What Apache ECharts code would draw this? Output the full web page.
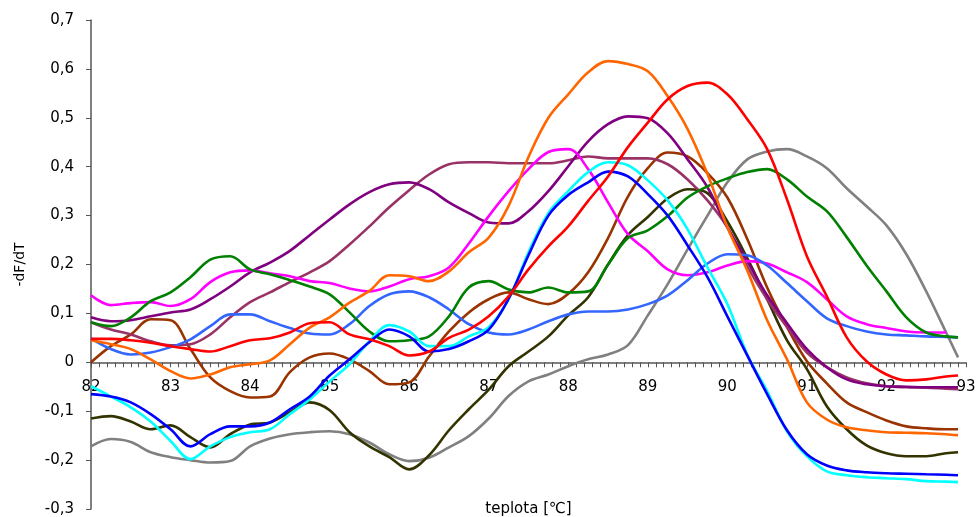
<!DOCTYPE html>
<html>
<head>
<meta charset="utf-8">
<script src="https://cdn.jsdelivr.net/npm/echarts@6/dist/echarts.min.js"></script>
<style>
html,body{margin:0;padding:0;background:#fff;}
#chart{width:979px;height:517px;}
</style>
</head>
<body>
<div id="chart"></div>
<script>
var temps = [82,82.25,82.5,82.75,83,83.25,83.5,83.75,84,84.25,84.5,84.75,85,85.25,85.5,85.75,86,86.25,86.5,86.75,87,87.25,87.5,87.75,88,88.25,88.5,88.75,89,89.25,89.5,89.75,90,90.25,90.5,90.75,91,91.25,91.5,91.75,92,92.25,92.5,92.75,92.9];

var gray = [-0.172,-0.157,-0.163,-0.184,-0.194,-0.2,-0.205,-0.202,-0.172,-0.156,-0.147,-0.143,-0.141,-0.147,-0.164,-0.188,-0.202,-0.195,-0.174,-0.151,-0.115,-0.069,-0.039,-0.025,-0.008,0.006,0.016,0.035,0.096,0.16,0.231,0.3,0.368,0.415,0.431,0.436,0.421,0.397,0.356,0.319,0.28,0.221,0.145,0.061,0.01];
var olive = [-0.115,-0.11,-0.121,-0.137,-0.129,-0.153,-0.174,-0.147,-0.127,-0.123,-0.102,-0.082,-0.098,-0.143,-0.172,-0.194,-0.219,-0.19,-0.139,-0.096,-0.056,-0.008,0.022,0.053,0.096,0.133,0.2,0.26,0.297,0.335,0.354,0.346,0.288,0.213,0.129,0.045,-0.014,-0.09,-0.137,-0.17,-0.186,-0.192,-0.192,-0.186,-0.184];
var brown = [0,0.033,0.057,0.088,0.086,0.027,-0.031,-0.059,-0.072,-0.07,-0.02,0.01,0.018,0.006,-0.018,-0.045,-0.041,0.012,0.063,0.102,0.129,0.143,0.129,0.119,0.14,0.184,0.254,0.339,0.397,0.429,0.421,0.387,0.337,0.252,0.153,0.072,0.002,-0.043,-0.082,-0.102,-0.119,-0.131,-0.135,-0.137,-0.137];
var plum = [0.082,0.067,0.057,0.043,0.035,0.037,0.057,0.092,0.123,0.143,0.164,0.184,0.207,0.241,0.278,0.317,0.352,0.384,0.405,0.409,0.409,0.407,0.407,0.407,0.413,0.421,0.417,0.417,0.417,0.405,0.374,0.331,0.276,0.196,0.129,0.072,0.02,-0.01,-0.031,-0.043,-0.049,-0.051,-0.052,-0.054,-0.055];
var purple = [0.092,0.084,0.086,0.094,0.102,0.108,0.129,0.155,0.184,0.204,0.228,0.26,0.292,0.323,0.348,0.364,0.368,0.354,0.327,0.305,0.286,0.284,0.309,0.35,0.401,0.452,0.487,0.503,0.499,0.468,0.415,0.358,0.276,0.207,0.137,0.08,0.027,-0.01,-0.035,-0.045,-0.049,-0.05,-0.051,-0.051,-0.051];
var magenta = [0.137,0.117,0.121,0.123,0.115,0.129,0.164,0.184,0.188,0.182,0.176,0.166,0.162,0.151,0.145,0.155,0.17,0.176,0.194,0.243,0.299,0.35,0.395,0.43,0.436,0.395,0.327,0.262,0.227,0.19,0.178,0.184,0.198,0.207,0.202,0.184,0.164,0.129,0.094,0.078,0.07,0.063,0.061,0.061,null];
var cornflower = [0.049,0.027,0.016,0.02,0.031,0.047,0.074,0.098,0.098,0.084,0.07,0.059,0.057,0.078,0.115,0.139,0.145,0.133,0.108,0.078,0.061,0.057,0.067,0.084,0.098,0.104,0.104,0.108,0.119,0.137,0.168,0.202,0.221,0.219,0.198,0.162,0.125,0.09,0.074,0.063,0.057,0.055,0.053,0.052,0.051];
var green = [0.082,0.074,0.092,0.125,0.143,0.174,0.21,0.217,0.19,0.18,0.168,0.155,0.139,0.102,0.063,0.043,0.045,0.053,0.094,0.153,0.166,0.149,0.143,0.153,0.143,0.145,0.2,0.254,0.27,0.299,0.337,0.36,0.376,0.389,0.395,0.374,0.339,0.309,0.256,0.198,0.145,0.092,0.061,0.053,0.051];
var cyan = [-0.049,-0.07,-0.092,-0.121,-0.161,-0.198,-0.172,-0.153,-0.143,-0.137,-0.106,-0.076,-0.039,-0.004,0.043,0.076,0.063,0.033,0.033,0.053,0.072,0.129,0.225,0.305,0.35,0.389,0.409,0.403,0.372,0.331,0.272,0.194,0.119,0.016,-0.059,-0.141,-0.192,-0.223,-0.231,-0.235,-0.237,-0.239,-0.243,-0.244,-0.245];
var blue = [-0.065,-0.07,-0.082,-0.106,-0.137,-0.172,-0.147,-0.131,-0.131,-0.123,-0.096,-0.07,-0.027,0.006,0.041,0.067,0.053,0.022,0.027,0.043,0.067,0.13,0.219,0.3,0.342,0.368,0.39,0.38,0.344,0.3,0.239,0.174,0.094,0.014,-0.065,-0.139,-0.188,-0.211,-0.221,-0.225,-0.227,-0.228,-0.229,-0.23,-0.231];
var orange = [0.045,0.037,0.027,0.006,-0.018,-0.033,-0.025,-0.01,-0.004,0.004,0.037,0.071,0.092,0.122,0.146,0.178,0.176,0.166,0.186,0.225,0.255,0.32,0.42,0.5,0.548,0.593,0.616,0.61,0.595,0.544,0.477,0.385,0.276,0.188,0.086,0.006,-0.082,-0.117,-0.133,-0.139,-0.143,-0.144,-0.145,-0.147,-0.149];
var red = [0.048,0.048,0.045,0.04,0.033,0.027,0.022,0.033,0.045,0.049,0.061,0.08,0.082,0.057,0.047,0.033,0.014,0.022,0.05,0.067,0.094,0.135,0.19,0.237,0.278,0.33,0.38,0.44,0.49,0.538,0.565,0.572,0.548,0.497,0.436,0.333,0.217,0.135,0.051,0.002,-0.025,-0.037,-0.035,-0.029,-0.027];

var seriesList = [
  {name:'s1', data: gray, color:'#808080'},
  {name:'s2', data: olive, color:'#333300'},
  {name:'s3', data: brown, color:'#993300'},
  {name:'s4', data: plum, color:'#993366'},
  {name:'s5', data: purple, color:'#800080'},
  {name:'s6', data: magenta, color:'#FF00FF'},
  {name:'s7', data: cornflower, color:'#3366FF'},
  {name:'s8', data: green, color:'#008000'},
  {name:'s9', data: cyan, color:'#00FFFF'},
  {name:'s10', data: blue, color:'#0000FF'},
  {name:'s11', data: orange, color:'#FF6600'},
  {name:'s12', data: red, color:'#FF0000'}
];

var FONT = '"DejaVu Sans", "Liberation Sans", Arial, sans-serif';
function fmt(v){ var r = Math.round(v*10)/10; if (r === 0) return '0'; return r.toFixed(1).replace('.', ','); }

var X_MIN = 82, X_MAX = 93;
var Y_MIN = -0.3, Y_MAX = 0.7;
var GRID_TOP = 20, GRID_BOTTOM = 8, CH = 517;
var plotH = CH - GRID_TOP - GRID_BOTTOM;
// labels/title axis shifted up from the grid bottom to the y = 0 line
var zeroShift = plotH * (0 - Y_MIN) / (Y_MAX - Y_MIN);
var AXIS_COLOR = '#555';

var chart = echarts.init(document.getElementById('chart'), null, {renderer:'canvas'});
chart.setOption({
  animation: false,
  backgroundColor: '#ffffff',
  grid: {left: 91, right: 13, top: GRID_TOP, bottom: GRID_BOTTOM, containLabel: false, outerBoundsMode: 'none'},
  xAxis: [{
    type: 'value', min: X_MIN, max: X_MAX, interval: 1,
    axisLine: {onZero: true, lineStyle: {color: AXIS_COLOR, width: 1.5}},
    axisTick: {show: true, length: 5, lineStyle: {color: AXIS_COLOR}},
    minorTick: {show: true, splitNumber: 10, length: 5, lineStyle: {color: AXIS_COLOR}},
    splitLine: {show: false},
    axisLabel: {fontFamily: FONT, fontSize: 15, color: '#000', margin: 15}
  }, {
    type: 'value', min: X_MIN, max: X_MAX, interval: 1, position: 'bottom', offset: -zeroShift,
    name: 'teplota [\u2103]', nameLocation: 'middle', nameGap: 139,
    nameTextStyle: {fontFamily: FONT, fontSize: 15, color: '#000'},
    axisLine: {show: false, onZero: false},
    axisTick: {show: false},
    splitLine: {show: false},
    axisLabel: {fontFamily: FONT, fontSize: 15, color: '#000', margin: 17}
  }],
  yAxis: {
    type: 'value', min: Y_MIN, max: Y_MAX, interval: 0.1,
    name: '-dF/dT', nameLocation: 'middle', nameGap: 64, nameRotate: 90,
    nameTextStyle: {fontFamily: FONT, fontSize: 14, color: '#000'},
    axisLine: {show: true, lineStyle: {color: AXIS_COLOR, width: 1.5}},
    axisTick: {show: true, length: 5, lineStyle: {color: AXIS_COLOR}},
    splitLine: {show: false},
    axisLabel: {fontFamily: FONT, fontSize: 15, color: '#000', margin: 17, formatter: fmt}
  },
  series: seriesList.map(function(s){
    return {
      name: s.name, type: 'line', xAxisIndex: 0, smooth: 0.35, showSymbol: false, symbol: 'none',
      connectNulls: false,
      data: temps.map(function(t, i){ return [t, s.data[i]]; }).filter(function(p){ return p[1] !== null; }),
      lineStyle: {color: s.color, width: 2.6},
      itemStyle: {color: s.color}
    };
  })
});
</script>
</body>
</html>
